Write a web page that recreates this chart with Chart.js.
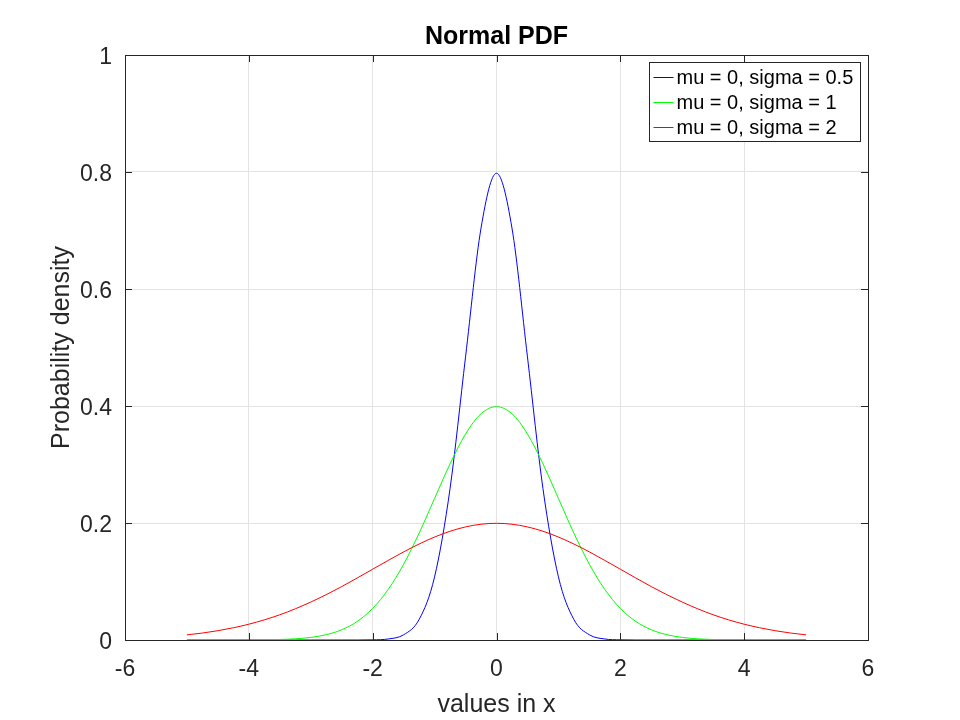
<!DOCTYPE html>
<html>
<head>
<meta charset="utf-8">
<script src="https://cdn.jsdelivr.net/npm/chart.js@4.4.1/dist/chart.umd.min.js"></script>
<style>
  html, body { margin: 0; padding: 0; background: #fff; }
  #wrap { width: 960px; height: 720px; }
</style>
</head>
<body>
<div id="wrap"><canvas id="myChart" width="960" height="720"></canvas></div>
<script>
// -------- Data --------
const xValues = [-5, -4.75, -4.5, -4.25, -4, -3.75, -3.5, -3.25, -3, -2.75, -2.5, -2.25, -2, -1.75, -1.5, -1.25, -1, -0.75, -0.5, -0.25,
  0, 0.25, 0.5, 0.75, 1, 1.25, 1.5, 1.75, 2, 2.25, 2.5, 2.75, 3, 3.25, 3.5, 3.75, 4, 4.25, 4.5, 4.75, 5];

const sigmaHalf = [0, 0, 0, 0, 0, 0, 0, 0, 0, 0, 0, 0, 0.0003, 0.0017, 0.0089, 0.035, 0.108, 0.259, 0.4839, 0.7041,
  0.7979, 0.7041, 0.4839, 0.259, 0.108, 0.035, 0.0089, 0.0017, 0.0003, 0, 0, 0, 0, 0, 0, 0, 0, 0, 0, 0, 0];

const sigmaOne = [0, 0, 0, 0, 0.0001, 0.0004, 0.0009, 0.002, 0.0044, 0.0091, 0.0175, 0.0317, 0.054, 0.0863, 0.1295, 0.1826, 0.242, 0.3011, 0.3521, 0.3867,
  0.3989, 0.3867, 0.3521, 0.3011, 0.242, 0.1826, 0.1295, 0.0863, 0.054, 0.0317, 0.0175, 0.0091, 0.0044, 0.002, 0.0009, 0.0004, 0.0001, 0, 0, 0, 0];

const sigmaTwo = [0.0088, 0.0119, 0.0159, 0.0209, 0.027, 0.0344, 0.0431, 0.0533, 0.0648, 0.0775, 0.0913, 0.106, 0.121, 0.136, 0.1506, 0.1641, 0.176, 0.1859, 0.1933, 0.1979,
  0.1995, 0.1979, 0.1933, 0.1859, 0.176, 0.1641, 0.1506, 0.136, 0.121, 0.106, 0.0913, 0.0775, 0.0648, 0.0533, 0.0431, 0.0344, 0.027, 0.0209, 0.0159, 0.0119, 0.0088];

const seriesLabels = ['mu = 0, sigma = 0.5', 'mu = 0, sigma = 1', 'mu = 0, sigma = 2'];
const seriesColors = ['#0000ff', '#00ff00', '#ff0000'];
const xTicks = [-6, -4, -2, 0, 2, 4, 6];
const yTicks = [0, 0.2, 0.4, 0.6, 0.8, 1];

const textColor = '#262626';
const fontFamily = '"Liberation Sans", Arial, sans-serif';

const toPoints = vals => vals.map((v, i) => ({ x: xValues[i], y: v }));

// -------- Plugin: title, frame with inward ticks, legend box --------
const framePlugin = {
  id: 'frame',
  afterDraw(chart) {
    const { ctx, chartArea: a, scales } = chart;
    ctx.save();
    // title
    ctx.fillStyle = '#000';
    ctx.font = 'bold 25px ' + fontFamily;
    ctx.textAlign = 'center';
    ctx.textBaseline = 'alphabetic';
    ctx.fillText('Normal PDF', (a.left + a.right) / 2, 44);

    // box
    ctx.strokeStyle = textColor;
    ctx.lineWidth = 1;
    ctx.strokeRect(a.left + 0.5, a.top + 0.5, a.right - a.left, a.bottom - a.top);

    // inward ticks
    const t = 7;
    ctx.beginPath();
    xTicks.forEach(v => {
      const px = Math.round(scales.x.getPixelForValue(v)) + 0.5;
      ctx.moveTo(px, a.bottom); ctx.lineTo(px, a.bottom - t);
      ctx.moveTo(px, a.top); ctx.lineTo(px, a.top + t);
    });
    yTicks.forEach(v => {
      const py = Math.round(scales.y.getPixelForValue(v)) + 0.5;
      ctx.moveTo(a.left, py); ctx.lineTo(a.left + t, py);
      ctx.moveTo(a.right, py); ctx.lineTo(a.right - t, py);
    });
    ctx.stroke();

    // legend
    const bx = 649.5, by = 62.5, bw = 211, bh = 79;
    ctx.fillStyle = '#fff';
    ctx.fillRect(bx, by, bw, bh);
    ctx.strokeStyle = textColor;
    ctx.strokeRect(bx, by, bw, bh);
    ctx.font = '20px ' + fontFamily;
    ctx.textAlign = 'left';
    ctx.textBaseline = 'middle';
    seriesLabels.forEach((label, i) => {
      const y = Math.round(by + 14 + i * 25) + 0.5;
      ctx.strokeStyle = seriesColors[i];
      ctx.beginPath();
      ctx.moveTo(bx + 4, y);
      ctx.lineTo(bx + 24, y);
      ctx.stroke();
      ctx.fillStyle = '#000';
      ctx.fillText(label, bx + 27, y + 1);
    });
    ctx.restore();
  }
};

const ctx = document.getElementById('myChart').getContext('2d');

new Chart(ctx, {
  type: 'line',
  data: {
    datasets: [
      { label: seriesLabels[0], data: toPoints(sigmaHalf), borderColor: seriesColors[0], order: 3 },
      { label: seriesLabels[1], data: toPoints(sigmaOne), borderColor: seriesColors[1], order: 2 },
      { label: seriesLabels[2], data: toPoints(sigmaTwo), borderColor: seriesColors[2], order: 1 }
    ]
  },
  options: {
    responsive: false,
    animation: false,
    devicePixelRatio: 1,
    layout: { padding: { left: 0, right: 92, top: 55, bottom: 0 } },
    elements: {
      point: { radius: 0 },
      line: { borderWidth: 1, cubicInterpolationMode: 'monotone', fill: false }
    },
    plugins: {
      legend: { display: false },
      title: { display: false },
      tooltip: { enabled: false }
    },
    scales: {
      x: {
        type: 'linear',
        min: -6, max: 6,
        afterBuildTicks: s => { s.ticks = xTicks.map(v => ({ value: v })); },
        afterFit: s => { s.height = 80; },
        grid: { color: '#e3e3e3', drawTicks: false },
        border: { display: false },
        ticks: { color: textColor, font: { family: fontFamily, size: 23 }, padding: 16, maxRotation: 0, callback: v => String(v) },
        title: { display: true, text: 'values in x', color: textColor, font: { family: fontFamily, size: 25 }, padding: { top: 14, bottom: 0 } }
      },
      y: {
        min: 0, max: 1,
        afterBuildTicks: s => { s.ticks = yTicks.map(v => ({ value: v })); },
        afterFit: s => { s.width = 125; },
        grid: { color: '#e3e3e3', drawTicks: false },
        border: { display: false },
        ticks: { color: textColor, font: { family: fontFamily, size: 23 }, padding: 13, labelOffset: 3, callback: v => String(v) },
        title: { display: true, text: 'Probability density', color: textColor, font: { family: fontFamily, size: 25 }, padding: { top: 47, bottom: 0 } }
      }
    }
  },
  plugins: [framePlugin]
});
</script>
</body>
</html>
